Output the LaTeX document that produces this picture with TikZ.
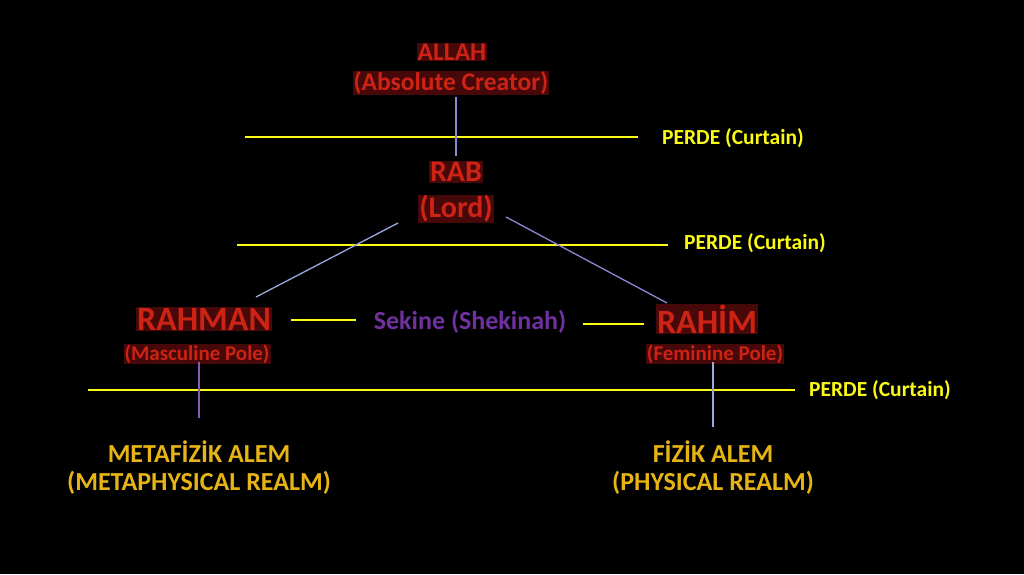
\documentclass[tikz,border=0pt]{standalone}
\usepackage{fontspec}
\setmainfont{Carlito}
\definecolor{redtxt}{RGB}{205,35,20}
\definecolor{redbg}{RGB}{70,8,8}
\definecolor{curtain}{RGB}{250,250,20}
\definecolor{gold}{RGB}{230,180,20}
\definecolor{purp}{RGB}{112,48,160}
\definecolor{linkA}{RGB}{150,130,210}
\definecolor{linkB}{RGB}{150,170,220}
\begin{document}
\begin{tikzpicture}[x=1pt,y=-1pt,
  redlbl/.style={text=redtxt,fill=redbg,font=\bfseries,inner sep=1pt,anchor=center},
  curtainlbl/.style={text=curtain,font=\bfseries\fontsize{21.5}{23}\selectfont,anchor=west,inner sep=0pt},
  realm/.style={text=gold,font=\bfseries\fontsize{26}{28}\selectfont,inner sep=0pt},
  curtainline/.style={draw=curtain,line width=1.5pt},
  link/.style={line width=1.3pt}]
\fill[black] (0,0) rectangle (1024,574);
\useasboundingbox (0,0) rectangle (1024,574);

% top
\node[redlbl,font=\bfseries\fontsize{25.5}{27}\selectfont] (allah) at (452,52) {ALLAH};
\node[redlbl,font=\bfseries\fontsize{25.5}{27}\selectfont] (creator) at (451,83) {(Absolute Creator)};
\node[redlbl,font=\bfseries\fontsize{30}{32}\selectfont] (rab) at (456,172) {RAB};
\node[redlbl,font=\bfseries\fontsize{30}{32}\selectfont] (lord) at (456,209) {(Lord)};

\coordinate (c1a) at (245,137); \coordinate (c1b) at (638,137);
\draw[curtainline] (c1a) -- (c1b);
\node[curtainlbl] (p1) at (662,138) {PERDE (Curtain)};
\coordinate (c2a) at (237,245); \coordinate (c2b) at (668,245);
\draw[curtainline] (c2a) -- (c2b);
\node[curtainlbl] (p2) at (684,243) {PERDE (Curtain)};

\coordinate (v1a) at (456,97); \coordinate (v1b) at (456,156);
\draw[link,draw=linkA] (v1a) -- (v1b);

% middle
\node[redlbl,font=\bfseries\fontsize{34}{36}\selectfont] (rahman) at (204,319) {RAHMAN};
\node[redlbl,font=\bfseries\fontsize{21}{23}\selectfont] (masc) at (197,354) {(Masculine Pole)};
\node[redlbl,font=\bfseries\fontsize{34}{36}\selectfont] (rahim) at (707,319) {RAHİM};
\node[redlbl,font=\bfseries\fontsize{21}{23}\selectfont] (fem) at (715,354) {(Feminine Pole)};
\node[text=purp,font=\bfseries\fontsize{26}{28}\selectfont,inner sep=0pt] (sekine) at (470,322) {Sekine (Shekinah)};

\coordinate (lk1a) at (398,223); \coordinate (lk1b) at (256,297);
\draw[link,draw=linkB] (lk1a) -- (lk1b);
\coordinate (lk2a) at (506,217); \coordinate (lk2b) at (667,303);
\draw[link,draw=linkA] (lk2a) -- (lk2b);

\coordinate (s1a) at (291,320); \coordinate (s1b) at (356,320);
\draw[curtainline] (s1a) -- (s1b);
\coordinate (s2a) at (583,324); \coordinate (s2b) at (644,324);
\draw[curtainline] (s2a) -- (s2b);

% bottom
\coordinate (c3a) at (88,390); \coordinate (c3b) at (795,390);
\draw[curtainline] (c3a) -- (c3b);
\node[curtainlbl] (p3) at (809,390) {PERDE (Curtain)};

\coordinate (v2a) at (199,362); \coordinate (v2b) at (199,418);
\draw[link,draw=purp!80!white] (v2a) -- (v2b);
\coordinate (v3a) at (713,362); \coordinate (v3b) at (713,427);
\draw[link,draw=linkB] (v3a) -- (v3b);

\node[realm] (meta) at (199,452) {METAFİZİK ALEM};
\node[realm] (metae) at (199,483) {(METAPHYSICAL REALM)};
\node[realm] (fiz) at (713,452) {FİZİK ALEM};
\node[realm] (fize) at (713,483) {(PHYSICAL REALM)};
\end{tikzpicture}
\end{document}
